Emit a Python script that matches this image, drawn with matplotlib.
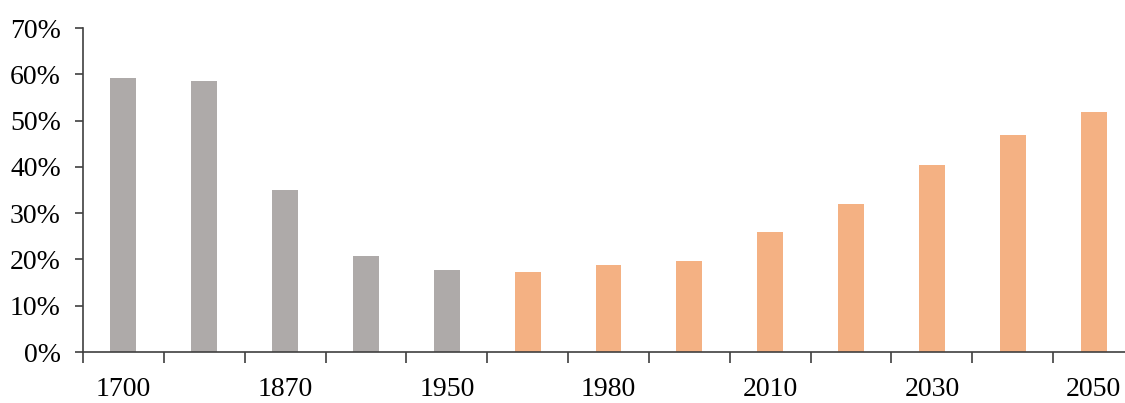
import numpy as np
import matplotlib.pyplot as plt
from matplotlib.ticker import FixedLocator, PercentFormatter

# data
years = ['1700', '1820', '1870', '1913', '1950', '1973', '1980',
         '2000', '2010', '2020', '2030', '2040', '2050']
shown = ['1700', '', '1870', '', '1950', '', '1980',
         '', '2010', '', '2030', '', '2050']
share = [59.1, 58.6, 35.0, 20.8, 17.7, 17.2, 18.9,
         19.7, 25.9, 31.9, 40.5, 46.9, 51.9]
is_projection = [False] * 5 + [True] * 8

grey = '#aeaaa9'
orange = '#f4b183'

plt.rcParams['font.family'] = ['Liberation Serif', 'DejaVu Serif']

fig = plt.figure(figsize=(11.25, 4.03), dpi=100)
ax = fig.add_axes([83 / 1125, 1 - 352 / 403, 1051 / 1125, 324 / 403])

x = np.arange(len(years))
colors = [orange if p else grey for p in is_projection]
ax.bar(x, share, width=0.32, color=colors, zorder=1)

ax.set_xlim(-0.5, len(years) - 0.5)
ax.set_ylim(0, 70)
ax.set_yticks(np.arange(0, 71, 10))
ax.yaxis.set_major_formatter(PercentFormatter(decimals=0))

# tick marks between categories, labels under the bars
ax.xaxis.set_major_locator(FixedLocator(np.arange(-0.5, len(years), 1.0)))
ax.xaxis.set_minor_locator(FixedLocator(x))
ax.set_xticklabels([])
ax.set_xticklabels(shown, minor=True)
ax.tick_params(axis='x', which='major', length=8, width=1.2,
               color='#404040', direction='out')
ax.tick_params(axis='x', which='minor', length=0, pad=18,
               labelsize=20, labelcolor='black')
ax.tick_params(axis='y', length=6, width=1.2, color='#404040',
               direction='out', pad=10, labelsize=20, labelcolor='black')

for s in ['top', 'right']:
    ax.spines[s].set_visible(False)
for s in ['left', 'bottom']:
    ax.spines[s].set_color('#404040')
    ax.spines[s].set_linewidth(1.2)
    ax.spines[s].set_zorder(2)

fig.savefig('out.png', dpi=100)
